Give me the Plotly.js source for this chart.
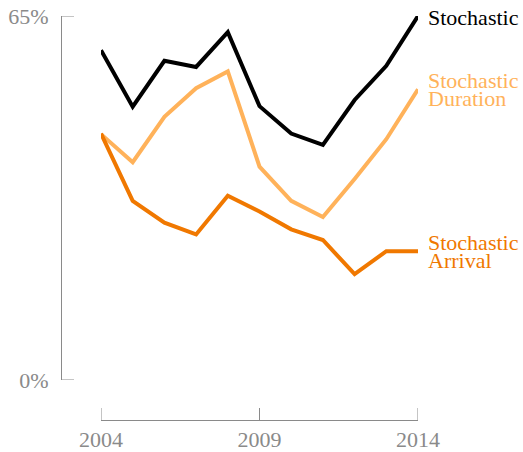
<!DOCTYPE html>
<html>
<head>
<meta charset="utf-8">
<script src="https://cdn.plot.ly/plotly-3.0.1.min.js"></script>
<style>html,body{margin:0;padding:0;background:#fff;}#chart{width:523px;height:452px;}</style>
</head>
<body>
<div id="chart"></div>
<script>
const years = [2004, 2005, 2006, 2007, 2008, 2009, 2010, 2011, 2012, 2013, 2014];
const stochastic = [58.9, 48.8, 57.0, 55.9, 62.1, 48.9, 44.0, 42.0, 50.0, 56.1, 65.0];
const stochasticDuration = [43.9, 38.9, 47.0, 52.1, 55.1, 38.1, 32.0, 29.1, 35.9, 43.0, 51.9];
const stochasticArrival = [44.0, 32.0, 28.1, 26.0, 32.9, 30.1, 26.9, 25.0, 18.9, 23.0, 23.0];
const xTicks = [2004, 2009, 2014];
const yTicks = [0, 65];
const yTickLabels = ['0%', '65%'];

const cBlack = '#000000';
const cLight = '#FFB25A';
const cDark = '#F07800';
const grey = '#8a8a8a';
const font = 'Liberation Serif, Times New Roman, serif';

const traces = [
  {x: years, y: stochastic, mode: 'lines', line: {color: cBlack, width: 4}, hoverinfo: 'skip'},
  {x: years, y: stochasticDuration, mode: 'lines', line: {color: cLight, width: 4}, hoverinfo: 'skip'},
  {x: years, y: stochasticArrival, mode: 'lines', line: {color: cDark, width: 4}, hoverinfo: 'skip'}
];

const last = years[years.length - 1];
function lab(text, yv, color, shift) {
  return {x: last, y: yv, xref: 'x', yref: 'y', text: text, showarrow: false,
    xanchor: 'left', yanchor: 'middle', xshift: 8, yshift: shift,
    font: {family: font, size: 22, color: color}};
}

// range-frame tick marks (inward), placed at the tick values
const plotW = 523 - 61 - 105, plotH = 452 - 16 - 32;
const shapes = [];
xTicks.forEach(v => shapes.push({type: 'line', xref: 'x', yref: 'paper', x0: v, x1: v, y0: 0, y1: 12 / plotH,
  line: {color: grey, width: 1}}));
yTicks.forEach(v => shapes.push({type: 'line', xref: 'paper', yref: 'y', x0: 0, x1: 13 / plotW, y0: v, y1: v,
  line: {color: grey, width: 1}}));

const layout = {
  width: 523, height: 452,
  margin: {l: 61, r: 105, t: 16, b: 32, pad: 0},
  paper_bgcolor: '#fff', plot_bgcolor: '#fff',
  showlegend: false,
  font: {family: font, size: 22, color: grey},
  xaxis: {
    domain: [40 / plotW, 1], range: [2004, 2014], anchor: 'free', position: 0,
    showline: true, linecolor: grey, linewidth: 1,
    showgrid: false, zeroline: false,
    tickmode: 'array', tickvals: xTicks,
    ticks: '', ticklabelstandoff: 0,
    tickfont: {family: font, size: 22, color: grey}
  },
  yaxis: {
    domain: [40 / plotH, 1], range: [0, 65], anchor: 'free', position: 0,
    showline: true, linecolor: grey, linewidth: 1,
    showgrid: false, zeroline: false,
    tickmode: 'array', tickvals: yTicks, ticktext: yTickLabels,
    ticks: '', ticklabelstandoff: 8,
    tickfont: {family: font, size: 22, color: grey}
  },
  shapes: shapes,
  annotations: [
    lab('Stochastic', stochastic[stochastic.length - 1], cBlack, -1),
    lab('Stochastic', stochasticDuration[stochasticDuration.length - 1], cLight, 9),
    lab('Duration', stochasticDuration[stochasticDuration.length - 1], cLight, -9),
    lab('Stochastic', stochasticArrival[stochasticArrival.length - 1], cDark, 9),
    lab('Arrival', stochasticArrival[stochasticArrival.length - 1], cDark, -9)
  ]
};

Plotly.newPlot('chart', traces, layout, {displayModeBar: false, staticPlot: true});
</script>
</body>
</html>
